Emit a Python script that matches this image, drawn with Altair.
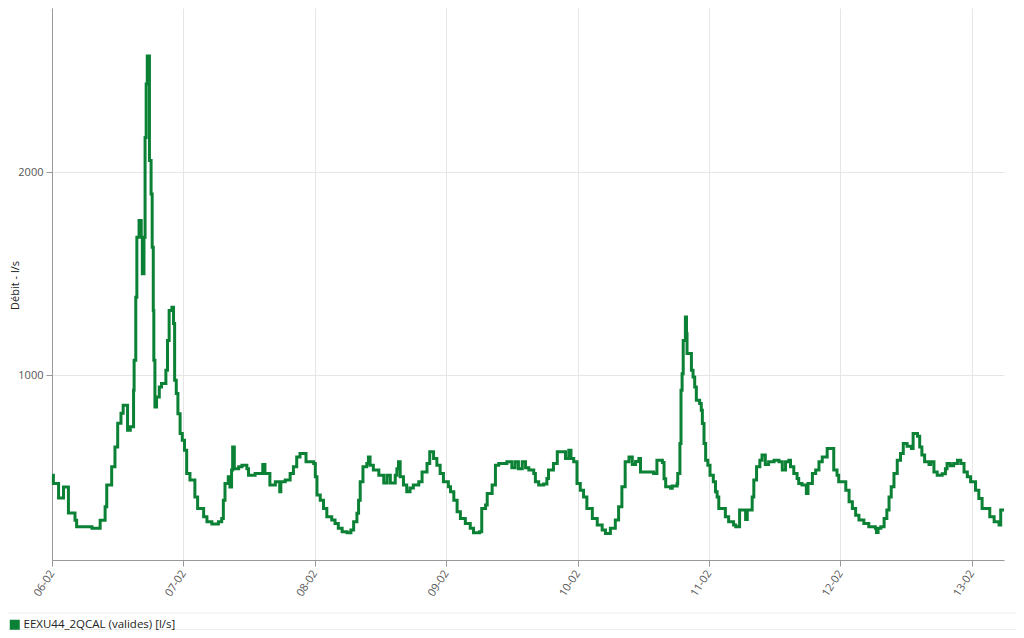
import altair as alt
import pandas as pd

series_name = "EEXU44_2QCAL (valides) [l/s]"
start = "2023-02-06 00:00"

hours = [
    0, 0.25, 1.2, 2.1, 3.0, 4.2, 4.5, 7.3, 8.8, 9.7, 10.0, 10.9, 11.5, 12.0, 12.6, 13.0,
    13.8, 14.3, 14.9, 15.0, 15.3, 15.5, 15.9, 16.3, 16.5, 16.8, 17.0, 17.2, 17.4, 17.8,
    18.1, 18.3, 18.5, 18.6, 18.8, 19.1, 19.6, 20.0, 20.8, 21.1, 21.4, 21.9, 22.2, 22.4,
    22.7, 23.0, 23.4, 23.8, 24.2, 24.6, 25.2, 26.1, 26.6, 27.7, 28.3, 29.2, 30.4, 31.0,
    31.3, 31.6, 32.2, 32.5, 32.8, 33.0, 33.3, 34.1, 34.7, 35.6, 35.9, 37.1, 38.5, 38.9,
    39.8, 40.8, 41.6, 41.8, 42.6, 43.5, 44.1, 44.7, 45.3, 46.4, 47.8, 48.1, 48.4, 49.0,
    49.6, 50.2, 51.1, 51.7, 52.3, 53.0, 53.9, 54.6, 55.1, 55.7, 56.0, 56.3, 56.8, 57.5,
    57.8, 58.1, 58.7, 59.7, 60.6, 61.2, 61.8, 62.7, 63.0, 63.3, 63.6, 64.2, 64.8, 65.4,
    66.0, 67.0, 67.6, 68.5, 69.0, 69.7, 70.3, 70.9, 71.5, 72.4, 72.8, 73.4, 74.0, 74.6,
    75.5, 76.4, 77.0, 78.1, 78.5, 79.2, 79.5, 80.4, 81.0, 81.6, 83.1, 84.0, 84.6, 85.2,
    85.9, 86.5, 87.1, 88.0, 88.3, 88.9, 89.8, 90.4, 90.7, 91.6, 92.3, 93.8, 94.4, 94.8,
    95.3, 95.9, 96.5, 97.1, 97.7, 98.7, 99.6, 100.5, 101.1, 102.0, 102.9, 103.5, 104.1,
    104.7, 105.4, 106.0, 106.6, 107.2, 107.5, 109.9, 110.5, 111.5, 111.8, 112.1, 113.0,
    113.3, 114.2, 114.3, 114.7, 114.9, 115.1, 115.3, 115.7, 115.9, 116.0, 116.8, 117.1,
    117.4, 117.7, 118.3, 118.6, 118.8, 119.1, 119.4, 119.8, 120.2, 120.8, 121.2, 121.5,
    121.8, 123.0, 123.6, 124.5, 124.9, 125.6, 126.7, 127.0, 127.9, 128.2, 128.7, 129.3,
    129.7, 130.3, 130.9, 131.9, 132.8, 133.4, 134.0, 134.6, 134.9, 135.5, 136.1, 136.4,
    137.0, 137.8, 138.1, 138.9, 139.5, 140.1, 140.7, 141.6, 142.8, 143.4, 143.7, 145.0,
    145.6, 146.2, 146.8, 147.4, 148.3, 149.2, 150.4, 150.6, 150.9, 151.4, 152.0, 152.5,
    152.9, 153.3, 153.8, 154.4, 155.0, 155.5, 156.2, 157.0, 157.3, 158.1, 158.5, 158.9,
    159.4, 160.2, 160.5, 161.1, 161.7, 162.6, 163.2, 163.5, 164.1, 164.7, 165.4, 166.0,
    166.6, 167.2, 167.8, 168.7, 169.3, 169.9, 171.3, 172.1, 173.0, 173.3, 173.9,
]

flow = [
    508, 467, 395, 450, 321, 286, 254, 247, 286, 352, 459, 549, 647, 764, 813, 852,
    729, 746, 926, 1074, 1385, 1680, 1763, 1680, 1501, 1680, 2172, 2435, 2574, 2058,
    1894, 1631, 1320, 1074, 844, 893, 943, 960, 1025, 1172, 1320, 1336, 1255, 976,
    910, 811, 713, 680, 631, 516, 484, 401, 344, 303, 278, 267, 278, 295,
    385, 467, 500, 450, 533, 647, 540, 549, 557, 540, 508, 516, 560, 516,
    459, 475, 426, 475, 484, 516, 549, 598, 615, 574, 566, 500, 410, 385,
    344, 303, 287, 270, 246, 229, 224, 238, 278, 320, 385, 475, 549, 566,
    598, 557, 533, 508, 470, 508, 470, 508, 540, 574, 500, 459, 426, 445,
    459, 475, 524, 566, 623, 590, 557, 516, 475, 451, 426, 385, 328, 295,
    270, 246, 224, 229, 344, 361, 418, 459, 557, 566, 574, 545, 574, 540,
    574, 545, 533, 516, 475, 459, 465, 492, 533, 566, 623, 590, 631, 590,
    574, 467, 434, 401, 344, 295, 262, 238, 221, 246, 287, 352, 451,
    574, 598, 560, 575, 590, 524, 516, 582, 570, 490, 451, 443,
    455, 467, 516, 664, 926, 1008, 1172, 1287, 1205, 1107, 1025, 992,
    943, 877, 861, 828, 762, 664, 582, 557, 508, 475, 426, 401,
    344, 303, 278, 262, 254, 336, 290, 336, 401, 484, 549, 582,
    607, 560, 574, 582, 574, 533, 574, 582, 550, 516, 492, 467,
    459, 418, 467, 516, 533, 574, 598, 639, 533, 508, 475, 434,
    377, 344, 311, 287, 270, 254, 246, 225, 246, 254, 295, 336,
    401, 451, 516, 582, 615, 664, 650, 640, 713, 700, 647, 607,
    574, 560, 574, 524, 508, 515, 540, 566, 555, 566, 582, 566,
    524, 500, 475, 434, 393, 344, 303, 278, 262, 336, 336,
]

y_ticks = [1000, 2000]

df = pd.DataFrame({
    "t": pd.Timestamp(start) + pd.to_timedelta(hours, unit="h"),
    "v": flow,
    "s": series_name,
})
df["t"] = df["t"].dt.strftime("%Y-%m-%dT%H:%M:%S")

GREEN = "#0b8135"
FONT = "Open Sans"

line = alt.Chart(df).mark_line(
    interpolate="step-after", strokeWidth=3, strokeJoin="miter"
).encode(
    x=alt.X(
        "t:T",
        title=None,
        scale=alt.Scale(nice=False),
        axis=alt.Axis(
            format="%d-%m",
            tickCount={"interval": "day", "step": 1},
            labelAngle=-57,
            labelAlign="right",
            labelBaseline="middle",
            labelPadding=5,
            labelFontSize=11,
            labelFont=FONT,
            labelColor="#555555",
            tickSize=6,
            tickColor="#999999",
            domainColor="#999999",
            gridColor="#e6e6e6",
            labelFlush=False,
            labelOverlap=False,
        ),
    ),
    y=alt.Y(
        "v:Q",
        title="Débit - l/s",
        scale=alt.Scale(domain=[90, 2810], nice=False, zero=False),
        axis=alt.Axis(
            values=y_ticks,
            format="d",
            labelFontSize=11,
            labelFont=FONT,
            labelColor="#555555",
            labelPadding=3,
            tickSize=6,
            tickColor="#999999",
            domainColor="#999999",
            gridColor="#e6e6e6",
            titleFont=FONT,
            titleFontSize=11,
            titleFontWeight="normal",
            titleColor="#222222",
            titleAngle=-90,
            titleX=-37,
            titleY=277,
            titleAlign="center",
            titleBaseline="middle",
        ),
    ),
    color=alt.Color(
        "s:N",
        scale=alt.Scale(range=[GREEN]),
        legend=alt.Legend(
            title=None,
            orient="none",
            legendX=-43,
            legendY=611,
            symbolType="square",
            symbolSize=100,
            symbolFillColor=GREEN,
            symbolStrokeColor=GREEN,
            symbolStrokeWidth=0,
            labelFontSize=11.5,
            labelFont=FONT,
            labelColor="#222222",
            labelOffset=3,
            padding=0,
        ),
    ),
)

band = alt.Chart(pd.DataFrame({"y": [605, 621.5]})).mark_rule(
    color="#eeeeee", strokeWidth=1
).encode(
    y=alt.Y("y:Q", scale=None),
    x=alt.value(-52),
    x2=alt.value(1012),
)

chart = alt.layer(band, line).properties(
    width=952,
    height=552,
    autosize=alt.AutoSizeParams(type="none"),
    padding={"left": 44, "top": 0, "right": 12, "bottom": 70},
).configure_view(stroke=None)

chart.save("out.html", embed_options={"renderer": "svg", "actions": False})
